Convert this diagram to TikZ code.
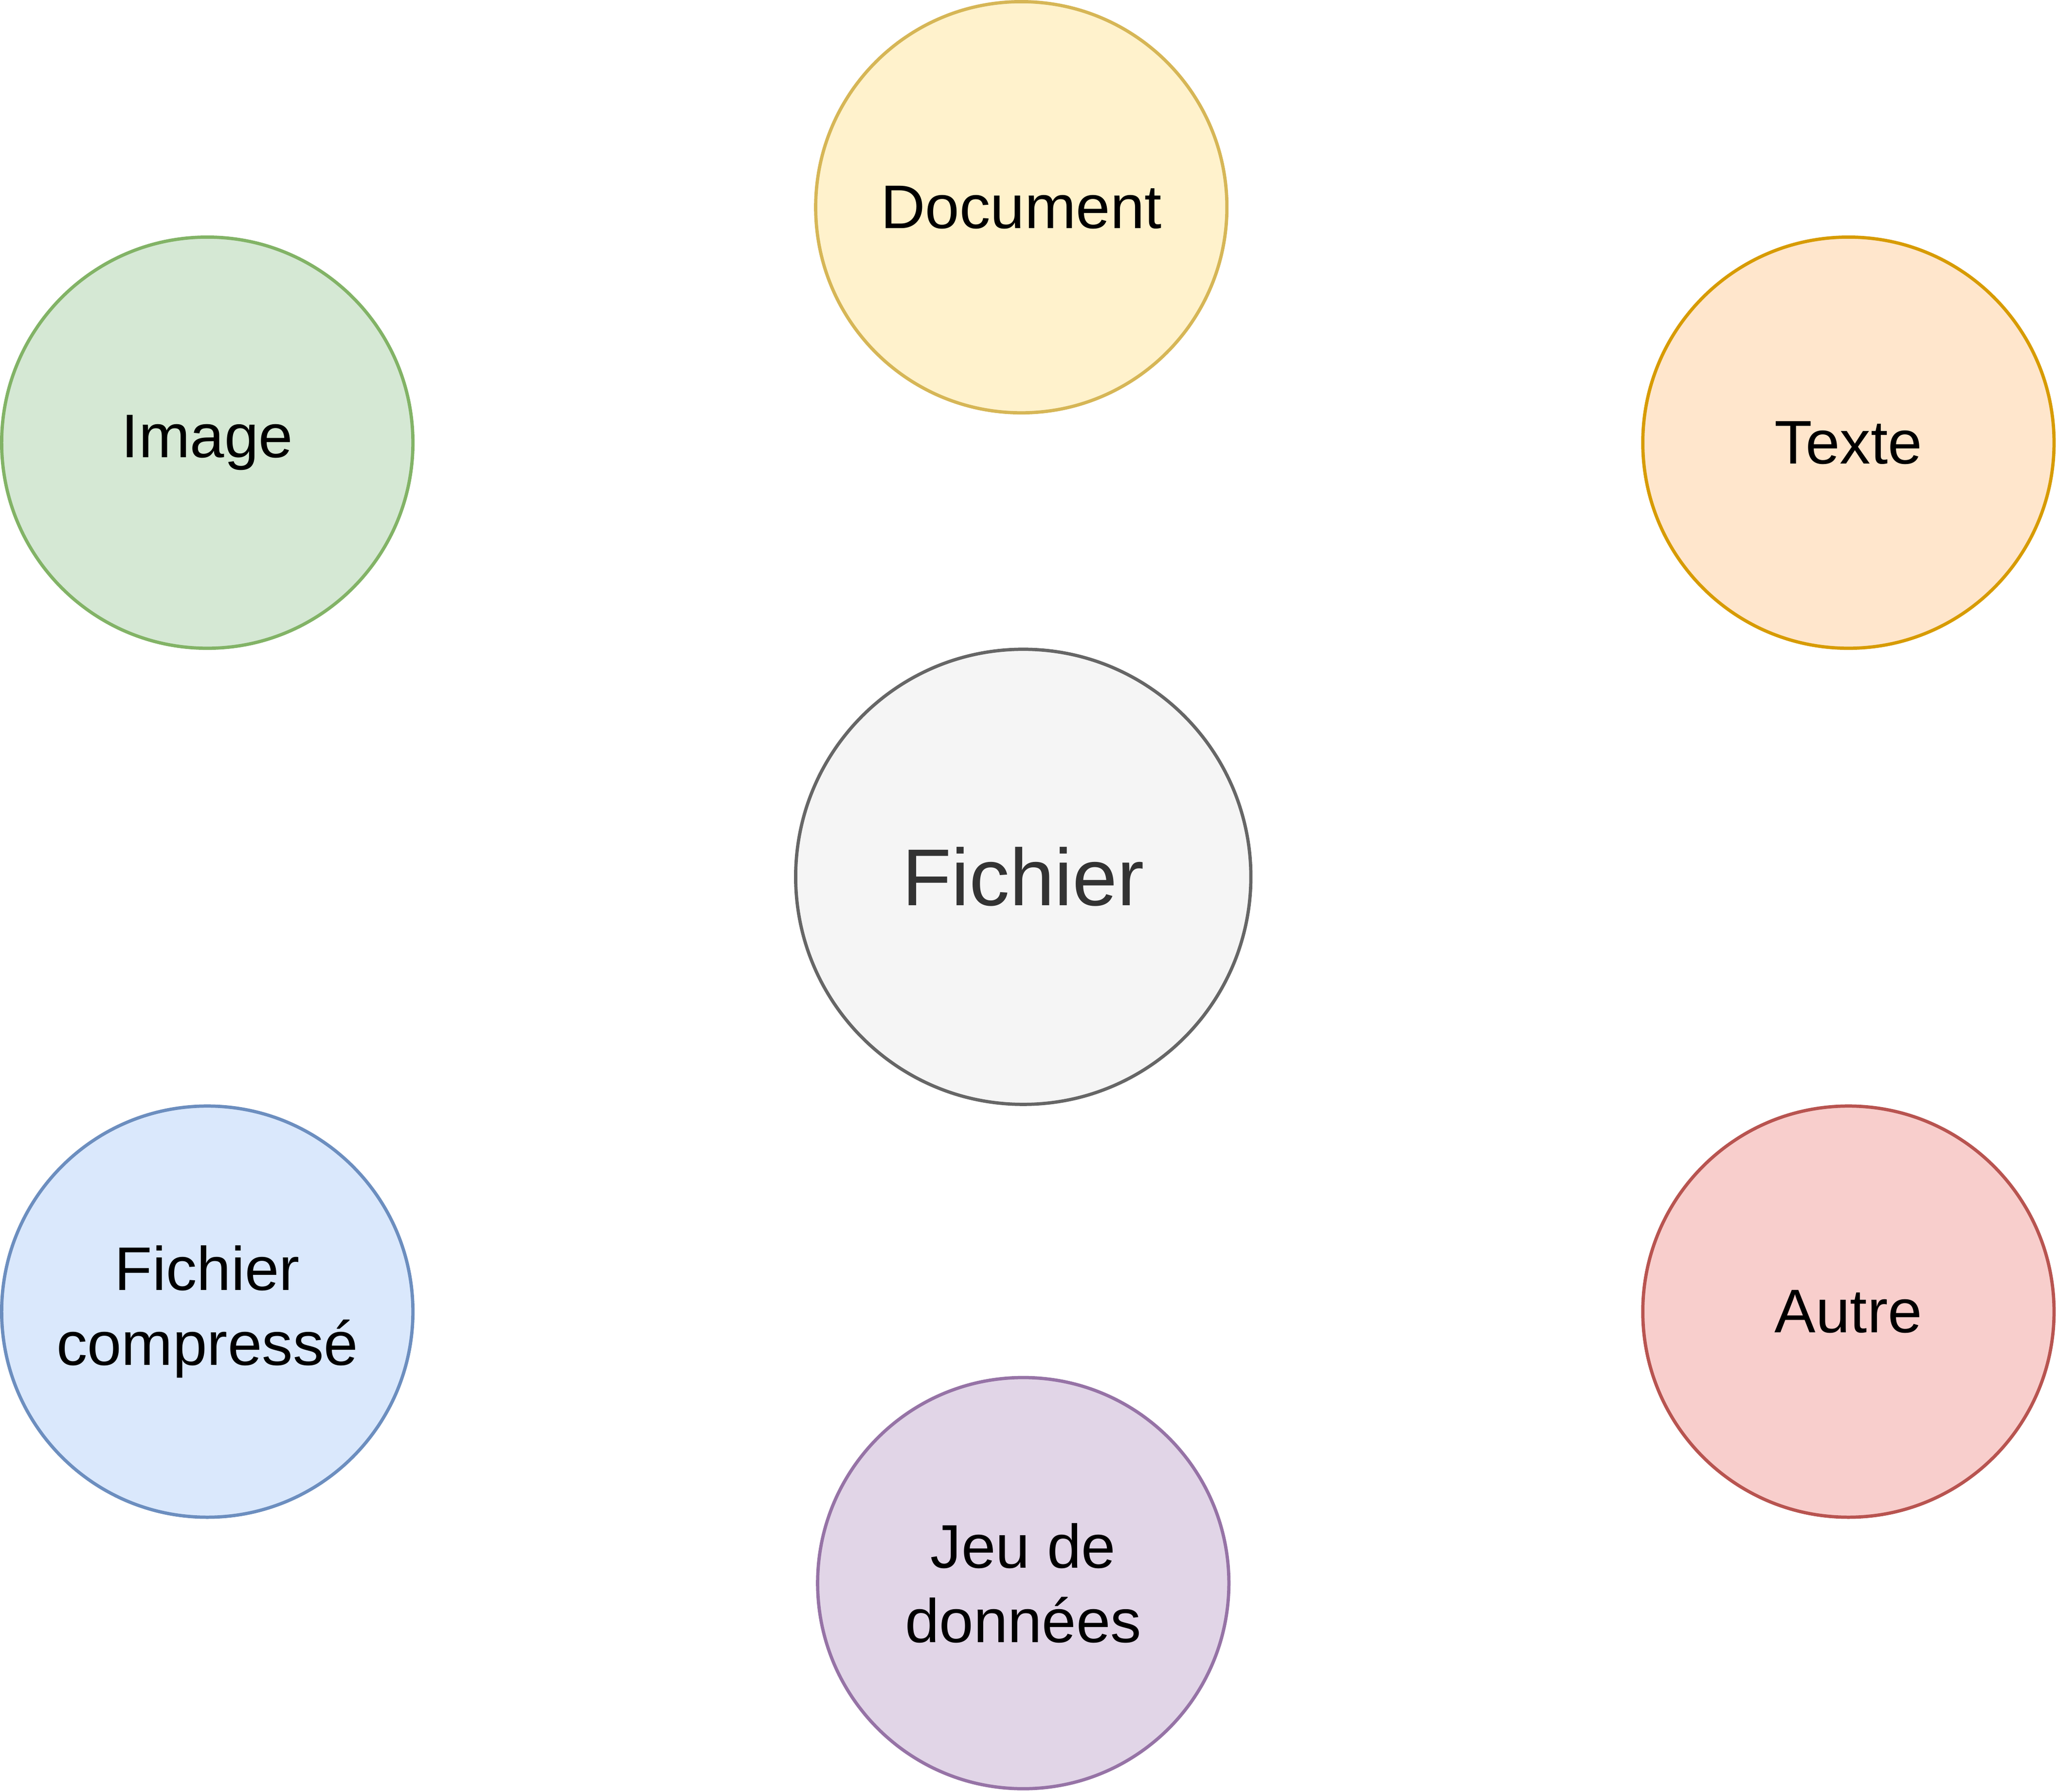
\documentclass[tikz,border=0pt]{standalone}
\usepackage{fontspec}
\setmainfont{Liberation Sans}
\usetikzlibrary{positioning}

\definecolor{fillgrey}{HTML}{F5F5F5}\definecolor{drawgrey}{HTML}{666666}\definecolor{textgrey}{HTML}{333333}
\definecolor{fillyellow}{HTML}{FFF2CC}\definecolor{drawyellow}{HTML}{D6B656}
\definecolor{fillgreen}{HTML}{D5E8D4}\definecolor{drawgreen}{HTML}{82B366}
\definecolor{fillorange}{HTML}{FFE6CC}\definecolor{draworange}{HTML}{D79B00}
\definecolor{fillblue}{HTML}{DAE8FC}\definecolor{drawblue}{HTML}{6C8EBF}
\definecolor{fillred}{HTML}{F8CECC}\definecolor{drawred}{HTML}{B85450}
\definecolor{fillpurple}{HTML}{E1D5E7}\definecolor{drawpurple}{HTML}{9673A6}

\tikzset{bubble/.style={circle, draw, line width=2.5pt, minimum size=313.5pt, inner sep=0pt,
  align=center, font=\fontsize{47}{57}\selectfont}}

\begin{document}
\begin{tikzpicture}[x=1pt, y=-1pt]
\useasboundingbox (0,0) rectangle (1568,1366);

\node[bubble, minimum size=347pt, fill=fillgrey, draw=drawgrey, text=textgrey,
  font=\fontsize{61.5}{70}\selectfont] (0) at (780,668.5) {Fichier};
\node[bubble, fill=fillyellow, draw=drawyellow] (1) at (778.5,158) {Document};
\node[bubble, fill=fillorange, draw=draworange] (2) at (1409,337.5) {Texte};
\node[bubble, fill=fillred, draw=drawred] (3) at (1409,1000) {Autre};
\node[bubble, fill=fillpurple, draw=drawpurple] (4) at (780,1207) {Jeu de\\données};
\node[bubble, fill=fillblue, draw=drawblue] (5) at (158,1000) {Fichier\\compressé};
\node[bubble, fill=fillgreen, draw=drawgreen] (6) at (158,337.5) {Image};
\end{tikzpicture}
\end{document}
